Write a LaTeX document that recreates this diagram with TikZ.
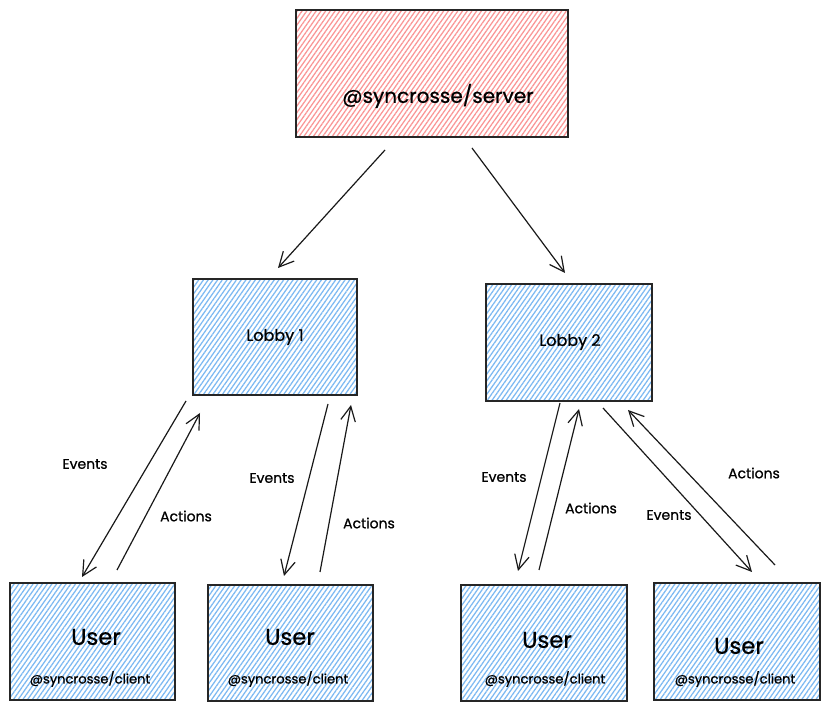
\documentclass[tikz,border=0pt]{standalone}
\usepackage{fontspec}
\setmainfont{Poppins}[FakeBold=0.7]
\usetikzlibrary{arrows.meta,patterns.meta}
\definecolor{hatchred}{RGB}{250,150,150}
\definecolor{hatchblue}{RGB}{125,185,242}
\tikzset{
  box/.style={draw=black!85, line width=1.1pt, inner sep=0pt},
  redbox/.style={box, pattern={Lines[angle=55,distance=2.9pt,line width=0.95pt]}, pattern color=hatchred},
  bluebox/.style={box, pattern={Lines[angle=55,distance=2.9pt,line width=0.95pt]}, pattern color=hatchblue},
  conn/.style={draw=black!90, line width=0.9pt, -{Straight Barb[length=11pt,width=11pt,line width=0.9pt]}},
  lbl/.style={font=\fontsize{10.5}{12}\selectfont, inner sep=0pt},
  ttl/.style={font=\fontsize{12}{14}\selectfont, inner sep=0pt},
  usr/.style={font=\fontsize{17}{20}\selectfont, inner sep=0pt},
  cli/.style={font=\fontsize{9.8}{12}\selectfont, inner sep=0pt},
}
\begin{document}
\begin{tikzpicture}[x=0.75pt,y=-0.75pt]
\useasboundingbox (0,0) rectangle (829,712);
% boxes
\node[redbox, minimum width=204pt, minimum height=95.25pt] (srv) at (432,73.5) {};
\node[bluebox, minimum width=123pt, minimum height=87pt] (lb1) at (275,337) {};
\node[bluebox, minimum width=124.5pt, minimum height=87.75pt] (lb2) at (569,342.5) {};
\node[bluebox, minimum width=123.75pt, minimum height=87.75pt] (u1) at (92.5,641.5) {};
\node[bluebox, minimum width=123.75pt, minimum height=87pt] (u2) at (290.5,643) {};
\node[bluebox, minimum width=124.5pt, minimum height=87pt] (u3) at (544,643) {};
\node[bluebox, minimum width=124.5pt, minimum height=87.75pt] (u4) at (737,641.5) {};
% texts
\node[font=\fontsize{15}{18}\selectfont, inner sep=0pt] (tsrv) at (438,96) {@syncrosse/server};
\node[ttl] (tlb1) at (275,337) {Lobby 1};
\node[ttl] (tlb2) at (570,342) {Lobby 2};
\node[usr] (tu1) at (96,637) {User};
\node[cli] (cu1) at (90,679) {@syncrosse/client};
\node[usr] (tu2) at (290,637) {User};
\node[cli] (cu2) at (288,679) {@syncrosse/client};
\node[usr] (tu3) at (547,640) {User};
\node[cli] (cu3) at (545,679) {@syncrosse/client};
\node[usr] (tu4) at (739,646) {User};
\node[cli] (cu4) at (735,679) {@syncrosse/client};
% connector end points
\coordinate (s1) at (385,150); \coordinate (l1t) at (278,268);
\coordinate (s2) at (472,148); \coordinate (l2t) at (565,273);
\coordinate (e1a) at (186,401); \coordinate (e1b) at (82,577);
\coordinate (a1a) at (117,570); \coordinate (a1b) at (200,413);
\coordinate (e2a) at (328,404); \coordinate (e2b) at (284,576);
\coordinate (a2a) at (320,572); \coordinate (a2b) at (351,405);
\coordinate (e3a) at (560,403); \coordinate (e3b) at (518,571);
\coordinate (a3a) at (539,570); \coordinate (a3b) at (579,409);
\coordinate (e4a) at (603,408); \coordinate (e4b) at (752,572);
\coordinate (a4a) at (775,565); \coordinate (a4b) at (628,410);
% connectors
\draw[conn] (s1) -- (l1t);
\draw[conn] (s2) -- (l2t);
\draw[conn] (e1a) -- (e1b);
\draw[conn] (a1a) -- (a1b);
\draw[conn] (e2a) -- (e2b);
\draw[conn] (a2a) -- (a2b);
\draw[conn] (e3a) -- (e3b);
\draw[conn] (a3a) -- (a3b);
\draw[conn] (e4a) -- (e4b);
\draw[conn] (a4a) -- (a4b);
% labels
\node[lbl] (ev1) at (85,464) {Events};
\node[lbl] (ac1) at (186,516) {Actions};
\node[lbl] (ev2) at (272,478) {Events};
\node[lbl] (ac2) at (369,523) {Actions};
\node[lbl] (ev3) at (504,477) {Events};
\node[lbl] (ac3) at (591,508) {Actions};
\node[lbl] (ev4) at (669,515) {Events};
\node[lbl] (ac4) at (754,473) {Actions};
\end{tikzpicture}
\end{document}
